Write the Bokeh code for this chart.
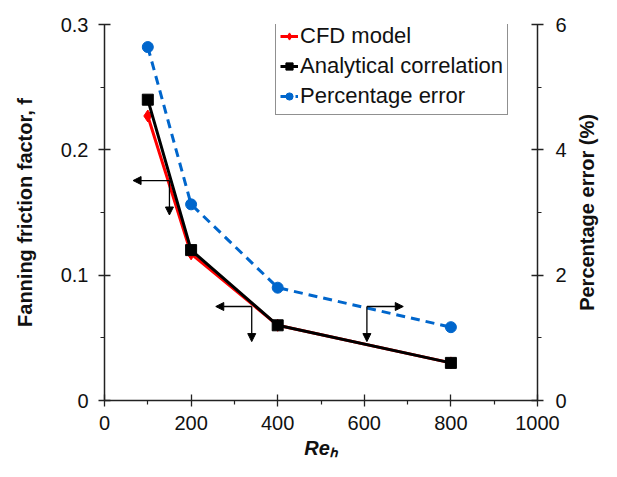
from bokeh.plotting import figure
from bokeh.layouts import row
from bokeh.models import Range1d, LinearAxis, Legend, LegendItem, Arrow, NormalHead, FixedTicker, Title
from bokeh.embed import file_html
from bokeh.resources import INLINE

re_h = [100, 200, 400, 800]
cfd_f = [0.227, 0.117, 0.060, 0.030]
analytical_f = [0.240, 0.120, 0.060, 0.030]
pct_error = [5.64, 3.13, 1.80, 1.17]

x_ticks = [0, 200, 400, 600, 800, 1000]
f_ticks = [0, 0.1, 0.2, 0.3]
err_ticks = [0, 2, 4, 6]

# annotation arrows (x_start, y_start, x_end, y_end) in data units of left axis
arrows = [
    (150, 0.1755, 66, 0.1755), (150, 0.1755, 150, 0.1480),
    (340, 0.0750, 257, 0.0750), (340, 0.0750, 340, 0.0470),
    (606, 0.0750, 690, 0.0750), (606, 0.0750, 606, 0.0470),
]

FONT = "Liberation Sans"

p = figure(width=573, height=461, output_backend="svg", toolbar_location=None,
           x_range=Range1d(0, 1000), y_range=Range1d(0, 0.3),
           min_border_left=104, min_border_right=36, min_border_top=24, min_border_bottom=57)
p.extra_y_ranges = {"err": Range1d(0, 6)}
p.outline_line_color = None
p.xgrid.visible = False
p.ygrid.visible = False
p.background_fill_color = "white"

def style_axis(ax, ticks, minor):
    ax.ticker = FixedTicker(ticks=ticks, minor_ticks=minor)
    ax.axis_line_color = "#222222"
    ax.axis_line_width = 1.5
    ax.major_tick_line_color = "#222222"
    ax.major_tick_line_width = 1.3
    ax.major_tick_in = 6
    ax.major_tick_out = 6
    ax.minor_tick_line_color = "#222222"
    ax.minor_tick_line_width = 1.2
    ax.minor_tick_in = 0
    ax.minor_tick_out = 4
    ax.major_label_text_font = FONT
    ax.major_label_text_font_size = "20px"
    ax.major_label_text_color = "#111111"
    ax.axis_label_text_font = FONT
    ax.axis_label_text_font_size = "20px"
    ax.axis_label_text_font_style = "bold"
    ax.axis_label_text_color = "#111111"

xa = p.xaxis[0]
style_axis(xa, x_ticks, [100, 300, 500, 700, 900])
xa.axis_label = "Reₕ"
xa.axis_label_text_font_style = "bold italic"
xa.major_label_standoff = 9
xa.axis_label_standoff = 4

ya = p.yaxis[0]
style_axis(ya, f_ticks, [0.05, 0.15, 0.25])
ya.axis_label = "Fanning friction factor, f"
ya.major_label_standoff = 10
ya.axis_label_standoff = 22

ra = LinearAxis(y_range_name="err")
style_axis(ra, err_ticks, [1, 3, 5])
ra.major_label_standoff = 12
p.add_layout(ra, "right")

red = "#ff0000"
blue = "#0066cc"

l1 = p.line(re_h, cfd_f, line_color=red, line_width=3)
s1 = p.scatter(re_h, cfd_f, marker="diamond", size=12, fill_color=red, line_color=red)
l2 = p.line(re_h, analytical_f, line_color="black", line_width=3)
s2 = p.scatter(re_h, analytical_f, marker="square", size=11, fill_color="black", line_color="black")
l3 = p.line(re_h, pct_error, line_color=blue, line_width=3, line_dash="9 6", y_range_name="err")
s3 = p.scatter(re_h, pct_error, marker="circle", size=11, fill_color=blue, line_color=blue, y_range_name="err")

for (xs, ys, xe, ye) in arrows:
    p.add_layout(Arrow(end=NormalHead(size=8, fill_color="black", line_color="black"),
                       x_start=xs, y_start=ys, x_end=xe, y_end=ye,
                       line_color="black", line_width=1.3))

legend = Legend(items=[
    LegendItem(label="CFD model", renderers=[l1, s1]),
    LegendItem(label="Analytical correlation", renderers=[l2, s2]),
    LegendItem(label="Percentage error", renderers=[l3, s3]),
], location=(171, 285))
legend.label_text_font = FONT
legend.label_text_font_size = "22px"
legend.label_text_color = "#111111"
legend.border_line_color = "#222222"
legend.border_line_width = 1.5
legend.glyph_width = 18
legend.glyph_height = 28
legend.label_standoff = 2
legend.spacing = 2
legend.padding = 4
legend.margin = 0
legend.label_height = 28
p.add_layout(legend)

# narrow companion figure carrying the right-hand axis title (reads bottom to top)
p2 = figure(width=28, height=461, output_backend="svg", toolbar_location=None,
            x_axis_location=None, y_axis_location=None,
            min_border_left=0, min_border_right=0, min_border_top=24, min_border_bottom=57)
p2.outline_line_color = None
p2.grid.visible = False
p2.add_layout(Title(text="Percentage error (%)", align="center", standoff=0,
                    text_font=FONT, text_font_size="20px", text_font_style="bold",
                    text_color="#111111"), "left")

layout = row(p, p2)
open("out.html", "w").write(file_html(layout, INLINE))
